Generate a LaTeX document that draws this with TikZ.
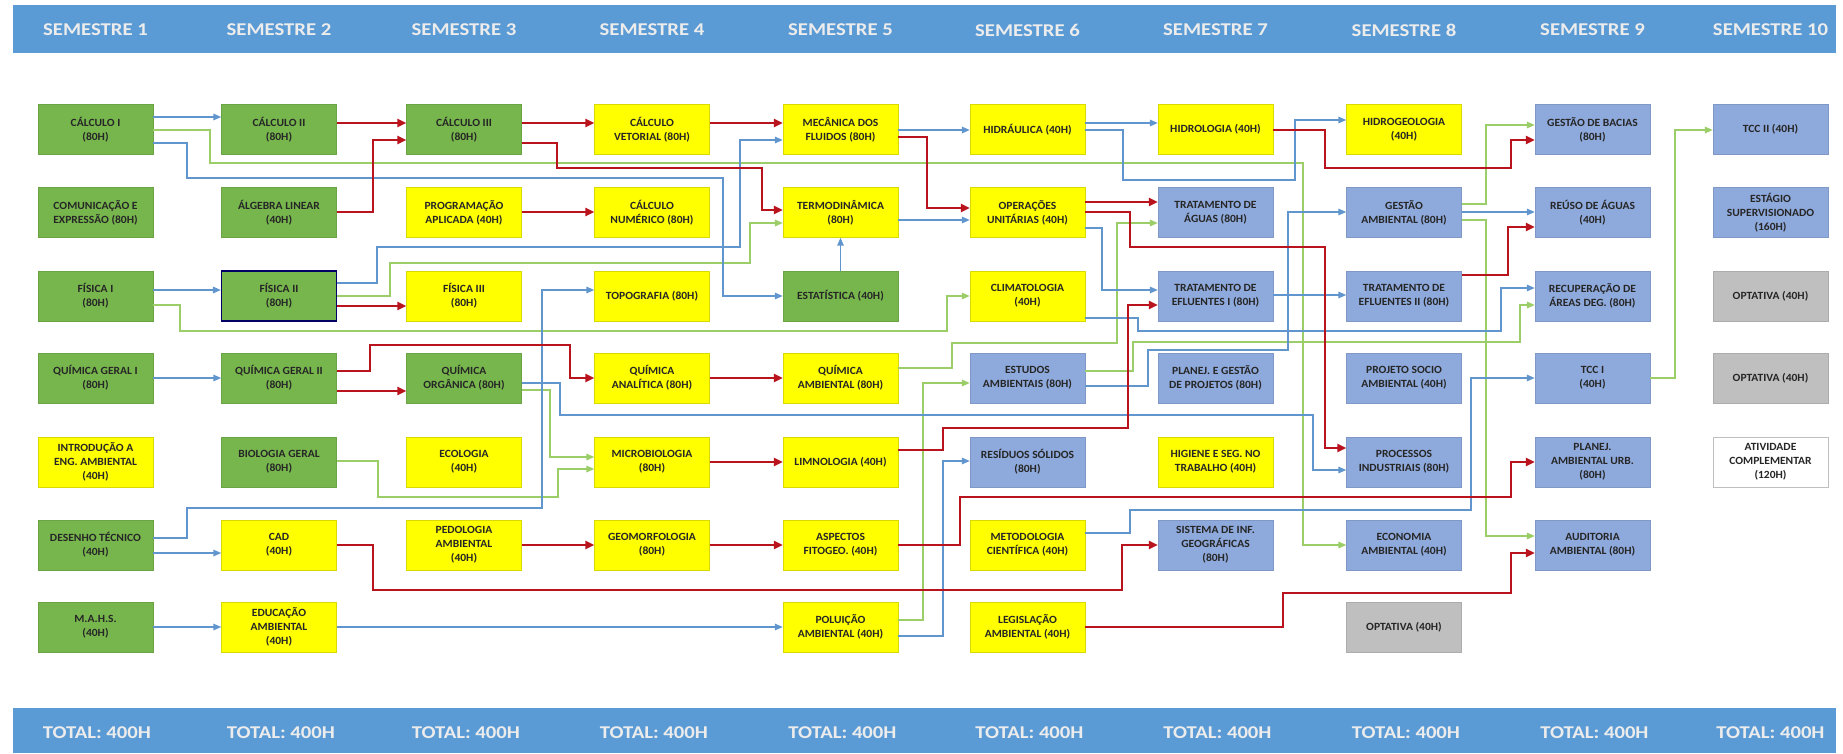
\documentclass[tikz,border=0pt]{standalone}
\usepackage{fontspec}
\setmainfont{Carlito}[FakeStretch=1.15]
\newfontfamily\boxfont{Carlito}[FakeStretch=1.05]
\usepackage{tikz}
\usetikzlibrary{arrows.meta}

\definecolor{hdrblue}{RGB}{91,155,213}
\definecolor{hdrtext}{RGB}{236,236,236}
\definecolor{boxgreen}{RGB}{119,182,77}
\definecolor{boxyellow}{RGB}{255,255,0}
\definecolor{boxblue}{RGB}{142,169,219}
\definecolor{boxgrey}{RGB}{191,191,191}
\definecolor{boxtext}{RGB}{38,38,38}
\definecolor{lineblue}{RGB}{96,150,205}
\definecolor{linered}{RGB}{185,20,30}
\definecolor{linegreen}{RGB}{155,205,105}

\begin{document}
\begin{tikzpicture}[x=1pt, y=-1pt,
  subj/.style={minimum width=115pt, minimum height=50pt, inner sep=1pt,
               align=center, text=boxtext,
               font=\boxfont\fontsize{11}{14}\selectfont\bfseries},
  greenbox/.style={subj, fill=boxgreen, draw=boxgreen!90!black},
  yellowbox/.style={subj, fill=boxyellow, draw=boxyellow!85!black},
  bluebox/.style={subj, fill=boxblue, draw=boxblue!90!black},
  greybox/.style={subj, fill=boxgrey, draw=boxgrey!90!black},
  whitebox/.style={subj, fill=white, draw=boxgrey},
  bar/.style={fill=hdrblue, minimum width=1823pt, inner sep=0pt},
  semlabel/.style={text=hdrtext, font=\fontsize{18}{20}\selectfont\bfseries},
  blueln/.style={draw=lineblue, line width=1.5pt, -{Triangle[length=8pt,width=6.5pt]}},
  redln/.style={draw=linered, line width=2.4pt, -{Triangle[length=9pt,width=8pt]}},
  greenln/.style={draw=linegreen, line width=1.6pt, -{Triangle[length=8pt,width=6.5pt]}}
]
\useasboundingbox (0,0) rectangle (1843,753);
\fill[white] (0,0) rectangle (1843,753);

\node[bar, minimum height=48pt] (hdr) at (924.5,29) {};
\node[bar, minimum height=45pt] (ftr) at (924.5,730.5) {};

\node[semlabel] (s1)  at (95.5,30)   {SEMESTRE 1};
\node[semlabel] (s2)  at (279,30)    {SEMESTRE 2};
\node[semlabel] (s3)  at (464,30)    {SEMESTRE 3};
\node[semlabel] (s4)  at (652,30)    {SEMESTRE 4};
\node[semlabel] (s5)  at (840.5,30)  {SEMESTRE 5};
\node[semlabel] (s6)  at (1027.5,30) {SEMESTRE 6};
\node[semlabel] (s7)  at (1215.5,30) {SEMESTRE 7};
\node[semlabel] (s8)  at (1404,30)   {SEMESTRE 8};
\node[semlabel] (s9)  at (1592.5,30) {SEMESTRE 9};
\node[semlabel] (s10) at (1770.5,30) {SEMESTRE 10};

\node[semlabel] (t1)  at (97,733)     {TOTAL: 400H};
\node[semlabel] (t2)  at (281,733)    {TOTAL: 400H};
\node[semlabel] (t3)  at (466,733)    {TOTAL: 400H};
\node[semlabel] (t4)  at (654,733)    {TOTAL: 400H};
\node[semlabel] (t5)  at (842.5,733)  {TOTAL: 400H};
\node[semlabel] (t6)  at (1029.5,733) {TOTAL: 400H};
\node[semlabel] (t7)  at (1217.5,733) {TOTAL: 400H};
\node[semlabel] (t8)  at (1406,733)   {TOTAL: 400H};
\node[semlabel] (t9)  at (1594.5,733) {TOTAL: 400H};
\node[semlabel] (t10) at (1770.5,733) {TOTAL: 400H};

\node[greenbox]  (cal1) at (95.5,129.5) {CÁLCULO I\\(80H)};
\node[greenbox]  (com)  at (95.5,212.5) {COMUNICAÇÃO E\\EXPRESSÃO (80H)};
\node[greenbox]  (fis1) at (95.5,296)   {FÍSICA I\\(80H)};
\node[greenbox]  (qg1)  at (95.5,378)   {QUÍMICA GERAL I\\(80H)};
\node[yellowbox] (iea)  at (95.5,462)   {INTRODUÇÃO A\\ENG. AMBIENTAL\\(40H)};
\node[greenbox]  (dt)   at (95.5,545)   {DESENHO TÉCNICO\\(40H)};
\node[greenbox]  (mahs) at (95.5,627)   {M.A.H.S.\\(40H)};

\node[greenbox]  (cal2) at (279,129.5) {CÁLCULO II\\(80H)};
\node[greenbox]  (alg)  at (279,212.5) {ÁLGEBRA LINEAR\\(40H)};
\node[greenbox, draw=black!60!blue, line width=1.2pt] (fis2) at (279,296) {FÍSICA II\\(80H)};
\node[greenbox]  (qg2)  at (279,378)   {QUÍMICA GERAL II\\(80H)};
\node[greenbox]  (bio)  at (279,462)   {BIOLOGIA GERAL\\(80H)};
\node[yellowbox] (cad)  at (279,545)   {CAD\\(40H)};
\node[yellowbox] (edu)  at (279,627)   {EDUCAÇÃO\\AMBIENTAL\\(40H)};

\node[greenbox]  (cal3) at (464,129.5) {CÁLCULO III\\(80H)};
\node[yellowbox] (prog) at (464,212.5) {PROGRAMAÇÃO\\APLICADA (40H)};
\node[yellowbox] (fis3) at (464,296)   {FÍSICA III\\(80H)};
\node[greenbox]  (qorg) at (464,378)   {QUÍMICA\\ORGÂNICA (80H)};
\node[yellowbox] (eco)  at (464,462)   {ECOLOGIA\\(40H)};
\node[yellowbox] (ped)  at (464,545)   {PEDOLOGIA\\AMBIENTAL\\(40H)};

\node[yellowbox] (cvet)  at (652,129.5) {CÁLCULO\\VETORIAL (80H)};
\node[yellowbox] (cnum)  at (652,212.5) {CÁLCULO\\NUMÉRICO (80H)};
\node[yellowbox] (topo)  at (652,296)   {TOPOGRAFIA (80H)};
\node[yellowbox] (qana)  at (652,378)   {QUÍMICA\\ANALÍTICA (80H)};
\node[yellowbox] (micro) at (652,462)   {MICROBIOLOGIA\\(80H)};
\node[yellowbox] (geo)   at (652,545)   {GEOMORFOLOGIA\\(80H)};

\node[yellowbox] (mec)   at (840.5,129.5) {MECÂNICA DOS\\FLUIDOS (80H)};
\node[yellowbox] (termo) at (840.5,212.5) {TERMODINÂMICA\\(80H)};
\node[greenbox]  (est)   at (840.5,296)   {ESTATÍSTICA (40H)};
\node[yellowbox] (qamb)  at (840.5,378)   {QUÍMICA\\AMBIENTAL (80H)};
\node[yellowbox] (limn)  at (840.5,462)   {LIMNOLOGIA (40H)};
\node[yellowbox] (fito)  at (840.5,545)   {ASPECTOS\\FITOGEO. (40H)};
\node[yellowbox] (pol)   at (840.5,627)   {POLUIÇÃO\\AMBIENTAL (40H)};

\node[yellowbox] (hidra)  at (1027.5,129.5) {HIDRÁULICA (40H)};
\node[yellowbox] (opu)    at (1027.5,212.5) {OPERAÇÕES\\UNITÁRIAS (40H)};
\node[yellowbox] (clima)  at (1027.5,296)   {CLIMATOLOGIA\\(40H)};
\node[bluebox]   (estamb) at (1027.5,378)   {ESTUDOS\\AMBIENTAIS (80H)};
\node[bluebox]   (res)    at (1027.5,462)   {RESÍDUOS SÓLIDOS\\(80H)};
\node[yellowbox] (met)    at (1027.5,545)   {METODOLOGIA\\CIENTÍFICA (40H)};
\node[yellowbox] (leg)    at (1027.5,627)   {LEGISLAÇÃO\\AMBIENTAL (40H)};

\node[yellowbox] (hidro) at (1215.5,129.5) {HIDROLOGIA (40H)};
\node[bluebox]   (tagua) at (1215.5,212.5) {TRATAMENTO DE\\ÁGUAS (80H)};
\node[bluebox]   (tef1)  at (1215.5,296)   {TRATAMENTO DE\\EFLUENTES I (80H)};
\node[bluebox]   (pgp)   at (1215.5,378)   {PLANEJ. E GESTÃO\\DE PROJETOS (80H)};
\node[yellowbox] (hig)   at (1215.5,462)   {HIGIENE E SEG. NO\\TRABALHO (40H)};
\node[bluebox]   (sig)   at (1215.5,545)   {SISTEMA DE INF.\\GEOGRÁFICAS\\(80H)};

\node[yellowbox] (hgeo) at (1404,129.5) {HIDROGEOLOGIA\\(40H)};
\node[bluebox]   (gamb) at (1404,212.5) {GESTÃO\\AMBIENTAL (80H)};
\node[bluebox]   (tef2) at (1404,296)   {TRATAMENTO DE\\EFLUENTES II (80H)};
\node[bluebox]   (psa)  at (1404,378)   {PROJETO SOCIO\\AMBIENTAL (40H)};
\node[bluebox]   (proc) at (1404,462)   {PROCESSOS\\INDUSTRIAIS (80H)};
\node[bluebox]   (econ) at (1404,545)   {ECONOMIA\\AMBIENTAL (40H)};
\node[greybox]   (opt8) at (1404,627)   {OPTATIVA (40H)};

\node[bluebox] (bac)   at (1592.5,129.5) {GESTÃO DE BACIAS\\(80H)};
\node[bluebox] (reuso) at (1592.5,212.5) {REÚSO DE ÁGUAS\\(40H)};
\node[bluebox] (rad)   at (1592.5,296)   {RECUPERAÇÃO DE\\ÁREAS DEG. (80H)};
\node[bluebox] (tcc1)  at (1592.5,378)   {TCC I\\(40H)};
\node[bluebox] (pau)   at (1592.5,462)   {PLANEJ.\\AMBIENTAL URB.\\(80H)};
\node[bluebox] (aud)   at (1592.5,545)   {AUDITORIA\\AMBIENTAL (80H)};

\node[bluebox]  (tcc2)   at (1770.5,129.5) {TCC II (40H)};
\node[bluebox]  (estag)  at (1770.5,212.5) {ESTÁGIO\\SUPERVISIONADO\\(160H)};
\node[greybox]  (opt10a) at (1770.5,296)   {OPTATIVA (40H)};
\node[greybox]  (opt10b) at (1770.5,378)   {OPTATIVA (40H)};
\node[whitebox] (ativ)   at (1770.5,462)   {ATIVIDADE\\COMPLEMENTAR\\(120H)};

\draw[greenln] (cal1.east |- 0,130) -- (210,130) -- (210,163) -- (1303,163) -- (1303,545) -- (econ.west |- 0,545);
\draw[greenln] (fis1.east |- 0,305) -- (180,305) -- (180,331) -- (947,331) -- (947,296) -- (clima.west |- 0,296);
\draw[greenln] (fis2.east |- 0,296) -- (390,296) -- (390,263) -- (750,263) -- (750,223) -- (termo.west |- 0,223);
\draw[greenln] (qorg.east |- 0,390) -- (550,390) -- (550,457) -- (micro.west |- 0,457);
\draw[greenln] (bio.east |- 0,461) -- (378,461) -- (378,497) -- (558,497) -- (558,469) -- (micro.west |- 0,469);
\draw[greenln] (qamb.east |- 0,368) -- (952,368) -- (952,343) -- (1117,343) -- (1117,223) -- (tagua.west |- 0,223);
\draw[greenln] (pol.east |- 0,620) -- (923,620) -- (923,383) -- (estamb.west |- 0,383);
\draw[greenln] (estamb.east |- 0,371) -- (1133,371) -- (1133,342) -- (1520,342) -- (1520,305) -- (rad.west |- 0,305);
\draw[greenln] (gamb.east |- 0,204) -- (1486,204) -- (1486,125) -- (bac.west |- 0,125);
\draw[greenln] (gamb.east |- 0,220) -- (1486,220) -- (1486,536) -- (aud.west |- 0,536);
\draw[greenln] (tcc1.east |- 0,378) -- (1675,378) -- (1675,130) -- (tcc2.west |- 0,130);

\draw[blueln] (cal1.east |- 0,117) -- (cal2.west |- 0,117);
\draw[blueln] (cal1.east |- 0,143) -- (187,143) -- (187,178) -- (723,178) -- (723,296) -- (est.west |- 0,296);
\draw[blueln] (fis1.east |- 0,290) -- (fis2.west |- 0,290);
\draw[blueln] (fis2.east |- 0,283) -- (377,283) -- (377,247) -- (740,247) -- (740,140) -- (mec.west |- 0,140);
\draw[blueln] (qg1.east |- 0,378) -- (qg2.west |- 0,378);
\draw[blueln] (dt.east |- 0,538) -- (187,538) -- (187,508) -- (542,508) -- (542,290) -- (topo.west |- 0,290);
\draw[blueln] (dt.east |- 0,553) -- (cad.west |- 0,553);
\draw[blueln] (mahs.east |- 0,627) -- (edu.west |- 0,627);
\draw[blueln] (edu.east |- 0,627) -- (pol.west |- 0,627);
\draw[blueln] (qorg.east |- 0,383) -- (560,383) -- (560,415) -- (1313,415) -- (1313,470) -- (proc.west |- 0,470);
\draw[blueln] (est.north) -- (termo.south);
\draw[blueln] (mec.east |- 0,130) -- (hidra.west |- 0,130);
\draw[blueln] (termo.east |- 0,220) -- (opu.west |- 0,220);
\draw[blueln] (hidra.east |- 0,123) -- (hidro.west |- 0,123);
\draw[blueln] (hidra.east |- 0,130) -- (1123,130) -- (1123,180) -- (1295,180) -- (1295,120) -- (hgeo.west |- 0,120);
\draw[blueln] (opu.east |- 0,228) -- (1102,228) -- (1102,290) -- (tef1.west |- 0,290);
\draw[blueln] (clima.east |- 0,318) -- (1138,318) -- (1138,331) -- (1501,331) -- (1501,288) -- (rad.west |- 0,288);
\draw[blueln] (estamb.east |- 0,386) -- (1148,386) -- (1148,350) -- (1288,350) -- (1288,212) -- (gamb.west |- 0,212);
\draw[blueln] (tef1.east |- 0,295) -- (tef2.west |- 0,295);
\draw[blueln] (pol.east |- 0,636) -- (943,636) -- (943,461) -- (res.west |- 0,461);
\draw[blueln] (met.east |- 0,533) -- (1130,533) -- (1130,510) -- (1471,510) -- (1471,378) -- (tcc1.west |- 0,378);
\draw[blueln] (gamb.east |- 0,212) -- (reuso.west |- 0,212);

\draw[redln] (cal2.east |- 0,123) -- (cal3.west |- 0,123);
\draw[redln] (alg.east |- 0,212) -- (373,212) -- (373,140) -- (cal3.west |- 0,140);
\draw[redln] (fis2.east |- 0,306) -- (fis3.west |- 0,306);
\draw[redln] (qg2.east |- 0,371) -- (370,371) -- (370,345) -- (570,345) -- (570,378) -- (qana.west |- 0,378);
\draw[redln] (qg2.east |- 0,391) -- (qorg.west |- 0,391);
\draw[redln] (cal3.east |- 0,123) -- (cvet.west |- 0,123);
\draw[redln] (cal3.east |- 0,143) -- (557,143) -- (557,168) -- (762,168) -- (762,210) -- (termo.west |- 0,210);
\draw[redln] (cvet.east |- 0,123) -- (mec.west |- 0,123);
\draw[redln] (prog.east |- 0,212) -- (cnum.west |- 0,212);
\draw[redln] (mec.east |- 0,137) -- (927,137) -- (927,208) -- (opu.west |- 0,208);
\draw[redln] (qana.east |- 0,378) -- (qamb.west |- 0,378);
\draw[redln] (micro.east |- 0,462) -- (limn.west |- 0,462);
\draw[redln] (limn.east |- 0,450) -- (943,450) -- (943,428) -- (1128,428) -- (1128,305) -- (tef1.west |- 0,305);
\draw[redln] (ped.east |- 0,545) -- (geo.west |- 0,545);
\draw[redln] (geo.east |- 0,545) -- (fito.west |- 0,545);
\draw[redln] (fito.east |- 0,545) -- (960,545) -- (960,497) -- (1511,497) -- (1511,462) -- (pau.west |- 0,462);
\draw[redln] (cad.east |- 0,545) -- (373,545) -- (373,590) -- (1122,590) -- (1122,545) -- (sig.west |- 0,545);
\draw[redln] (opu.east |- 0,202) -- (tagua.west |- 0,202);
\draw[redln] (opu.east |- 0,212) -- (1130,212) -- (1130,247) -- (1325,247) -- (1325,448) -- (proc.west |- 0,448);
\draw[redln] (hidro.east |- 0,130) -- (1325,130) -- (1325,168) -- (1511,168) -- (1511,140) -- (bac.west |- 0,140);
\draw[redln] (tef2.east |- 0,275) -- (1508,275) -- (1508,227) -- (reuso.west |- 0,227);
\draw[redln] (leg.east |- 0,627) -- (1283,627) -- (1283,593) -- (1511,593) -- (1511,553) -- (aud.west |- 0,553);
\end{tikzpicture}
\end{document}
